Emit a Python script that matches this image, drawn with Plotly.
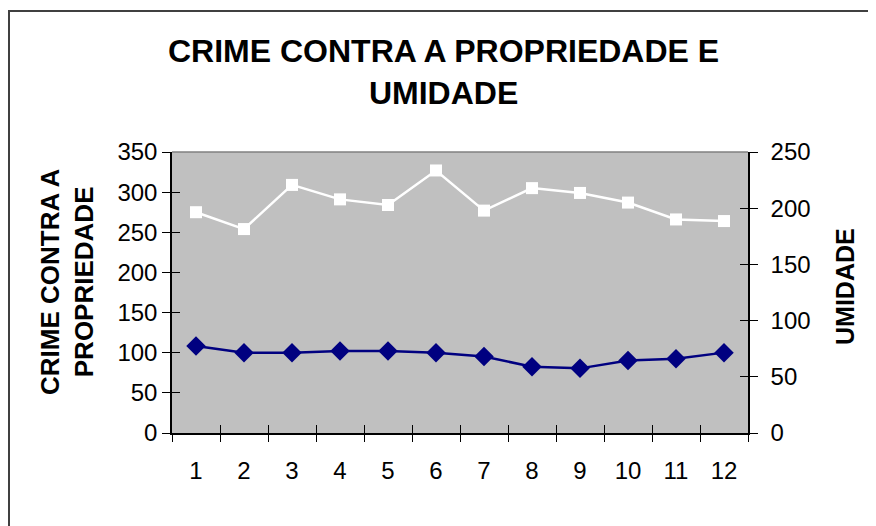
import plotly.graph_objects as go

months = [1, 2, 3, 4, 5, 6, 7, 8, 9, 10, 11, 12]
month_labels = ["1", "2", "3", "4", "5", "6", "7", "8", "9", "10", "11", "12"]
crime = [275, 254, 309, 291, 284, 327, 277, 305, 299, 287, 266, 264]
humidity = [77.5, 71.5, 71.5, 73, 73, 71.5, 68, 59, 57.5, 64.5, 66, 71.5]
left_ticks = [0, 50, 100, 150, 200, 250, 300, 350]
right_ticks = [0, 50, 100, 150, 200, 250]
bounds = [m - 0.5 for m in months] + [12.5]

FONT = "Liberation Sans, Arial, sans-serif"

fig = go.Figure()
fig.add_trace(go.Scatter(
    x=months, y=crime, mode="lines+markers", yaxis="y",
    line=dict(color="white", width=2.5),
    marker=dict(symbol="square", size=12, color="white", line=dict(width=0)),
    showlegend=False, hoverinfo="skip"))
fig.add_trace(go.Scatter(
    x=months, y=humidity, mode="lines+markers", yaxis="y2",
    line=dict(color="#000080", width=2.5),
    marker=dict(symbol="diamond", size=15, color="#000080", line=dict(width=0)),
    showlegend=False, hoverinfo="skip"))

O = 8  # page body offset
W, H = 876, 526
L = 172 - O
T = 152 - O
R = W - (748 - O)
B = H - (433 - O)
pw, ph = W - L - R, H - T - B

tickfont = dict(family=FONT, size=24, color="black")

fig.update_layout(
    width=W, height=H,
    margin=dict(l=L, r=R, t=T, b=B, pad=0),
    paper_bgcolor="white", plot_bgcolor="#C0C0C0",
    font=dict(family=FONT, color="black"),
    xaxis=dict(range=[0.5, 12.5], tickmode="array", tickvals=months, ticktext=month_labels,
               ticks="", showgrid=False, zeroline=False, showline=True, linecolor="black",
               linewidth=1.5, tickfont=tickfont, ticklabelstandoff=15,
               minor=dict(tickmode="array", tickvals=bounds, ticks="outside", ticklen=7,
                          tickwidth=1.3, tickcolor="black", showgrid=False)),
    xaxis2=dict(range=[0.5, 12.5], overlaying="x", anchor="y", side="bottom",
                tickmode="array", tickvals=bounds, ticks="inside", ticklen=8, tickwidth=1.3,
                tickcolor="black", showticklabels=False, showgrid=False, zeroline=False,
                showline=False),
    yaxis=dict(range=[0, 350], tickmode="array", tickvals=left_ticks, ticks="outside",
               ticklen=8, tickwidth=1.3, tickcolor="black", showgrid=False, zeroline=False,
               showline=True, linecolor="black", linewidth=1.5, tickfont=tickfont,
               ticklabelstandoff=0),
    yaxis2=dict(range=[0, 250], overlaying="y", side="right", anchor="x", tickmode="array",
                tickvals=right_ticks, ticks="outside", ticklen=8, tickwidth=1.3,
                tickcolor="black", showgrid=False, zeroline=False, showline=True,
                linecolor="black", linewidth=1.5, tickfont=tickfont, ticklabelstandoff=8),
    yaxis3=dict(range=[0, 350], overlaying="y", side="left", anchor="x", tickmode="array",
                tickvals=left_ticks, ticks="inside", ticklen=8, tickwidth=1.3,
                tickcolor="black", showticklabels=False, showgrid=False, zeroline=False,
                showline=False),
    yaxis4=dict(range=[0, 250], overlaying="y", side="right", anchor="x", tickmode="array",
                tickvals=right_ticks, ticks="inside", ticklen=8, tickwidth=1.3,
                tickcolor="black", showticklabels=False, showgrid=False, zeroline=False,
                showline=False),
)

# invisible helpers so the overlay tick axes are drawn
fig.add_trace(go.Scatter(x=[], y=[], xaxis="x2", yaxis="y", showlegend=False))
fig.add_trace(go.Scatter(x=[], y=[], yaxis="y3", showlegend=False))
fig.add_trace(go.Scatter(x=[], y=[], yaxis="y4", showlegend=False))

def px_x(x):
    return (x - O - L) / pw

def px_y(y):
    return (H - B - (y - O)) / ph

# outer chart frame
fig.add_shape(type="rect", xref="paper", yref="paper",
              x0=px_x(9), x1=px_x(W + 30), y0=px_y(H + 30), y1=px_y(11),
              line=dict(color="#404040", width=2), fillcolor="rgba(0,0,0,0)", layer="below")
# plot area top border
fig.add_shape(type="line", xref="paper", yref="paper", x0=0, x1=1, y0=1, y1=1,
              line=dict(color="#808080", width=1.5))

fig.add_annotation(text="<b>CRIME CONTRA A PROPRIEDADE E<br>UMIDADE</b>", xref="paper",
                   yref="paper", x=px_x(443), y=px_y(72), xanchor="center", yanchor="middle",
                   showarrow=False, font=dict(family=FONT, size=32, color="black"),
                   align="center")
fig.add_annotation(text="<b>CRIME CONTRA A<br>PROPRIEDADE</b>", xref="paper", yref="paper",
                   x=px_x(67), y=px_y(282), xanchor="center", yanchor="middle",
                   textangle=-90, showarrow=False,
                   font=dict(family=FONT, size=26, color="black"), align="center")
fig.add_annotation(text="<b>UMIDADE</b>", xref="paper", yref="paper",
                   x=px_x(845), y=px_y(287), xanchor="center", yanchor="middle",
                   textangle=-90, showarrow=False,
                   font=dict(family=FONT, size=25, color="black"))

fig.write_html("out.html")
